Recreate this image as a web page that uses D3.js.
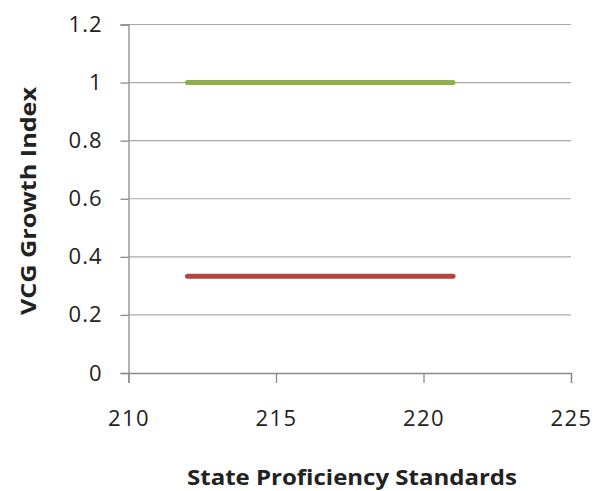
<!DOCTYPE html>
<html>
<head>
<meta charset="utf-8">
<script src="https://cdn.jsdelivr.net/npm/d3@7"></script>
<style>
  html, body { margin: 0; padding: 0; background: #fff; }
  svg text { font-family: "Open Sans", "Liberation Sans", sans-serif; fill: #222; }
</style>
</head>
<body>
<svg id="chart" width="602" height="491"></svg>
<script>
// Proficiency standard range and growth index levels
const seriesNames = ["High growth", "Low growth"];
const seriesX = [[212, 221], [212, 221]];
const seriesY = [[1, 1], [0.3333, 0.3333]];
const seriesColors = ["#8DB04A", "#B3443F"];
const xTicks = [210, 215, 220, 225];
const yTicks = [0, 0.2, 0.4, 0.6, 0.8, 1, 1.2];

const svg = d3.select("#chart");
const margin = { left: 128.5, right: 31, top: 24.5, bottom: 118 };
const W = 602, H = 491;

const x = d3.scaleLinear().domain([210, 225]).range([margin.left, W - margin.right]);
const y = d3.scaleLinear().domain([0, 1.2]).range([H - margin.bottom, margin.top]);

// horizontal gridlines
svg.append("g")
  .selectAll("line")
  .data(yTicks.filter(d => d > 0))
  .join("line")
  .attr("x1", x(210)).attr("x2", x(225))
  .attr("y1", d => y(d)).attr("y2", d => y(d))
  .attr("stroke", "#a8a8a8").attr("stroke-width", 1.2);

// y axis
const yAxis = svg.append("g")
  .attr("transform", `translate(${x(210)},0)`)
  .call(d3.axisLeft(y).tickValues(yTicks).tickSize(8).tickPadding(18)
    .tickFormat(d => d3.format("~g")(d)));
yAxis.select(".domain").attr("stroke", "#8a8a8a").attr("stroke-width", 1.3);
yAxis.selectAll(".tick line").attr("stroke", "#8a8a8a").attr("stroke-width", 1.3);
yAxis.selectAll(".tick text").attr("font-size", 22).attr("letter-spacing", 1).attr("fill", "#262626");

// x axis
const xAxis = svg.append("g")
  .attr("transform", `translate(0,${y(0)})`)
  .call(d3.axisBottom(x).tickValues(xTicks).tickSize(10).tickPadding(27));
xAxis.select(".domain").attr("stroke", "#8a8a8a").attr("stroke-width", 1.3);
xAxis.selectAll(".tick line").attr("stroke", "#8a8a8a").attr("stroke-width", 1.3);
xAxis.selectAll(".tick text").attr("font-size", 22).attr("letter-spacing", 1.5).attr("fill", "#262626");

// series lines
const line = d3.line().x(d => x(d[0])).y(d => y(d[1]));
seriesNames.forEach((name, i) => {
  const pts = seriesX[i].map((v, j) => [v, seriesY[i][j]]);
  svg.append("path")
    .datum(pts)
    .attr("d", line)
    .attr("fill", "none")
    .attr("stroke", seriesColors[i])
    .attr("stroke-width", 5)
    .attr("stroke-linecap", "round");
});

// axis titles
svg.append("text")
  .attr("x", 352).attr("y", 485)
  .attr("text-anchor", "middle")
  .attr("font-size", 21).attr("font-weight", "bold")
  .attr("textLength", 330).attr("lengthAdjust", "spacingAndGlyphs")
  .attr("fill", "#1a1a1a")
  .text("State Proficiency Standards");

svg.append("text")
  .attr("transform", `translate(36,201) rotate(-90)`)
  .attr("text-anchor", "middle")
  .attr("font-size", 21).attr("font-weight", "bold")
  .attr("textLength", 228).attr("lengthAdjust", "spacingAndGlyphs")
  .attr("fill", "#1a1a1a")
  .text("VCG Growth Index");
</script>
</body>
</html>
